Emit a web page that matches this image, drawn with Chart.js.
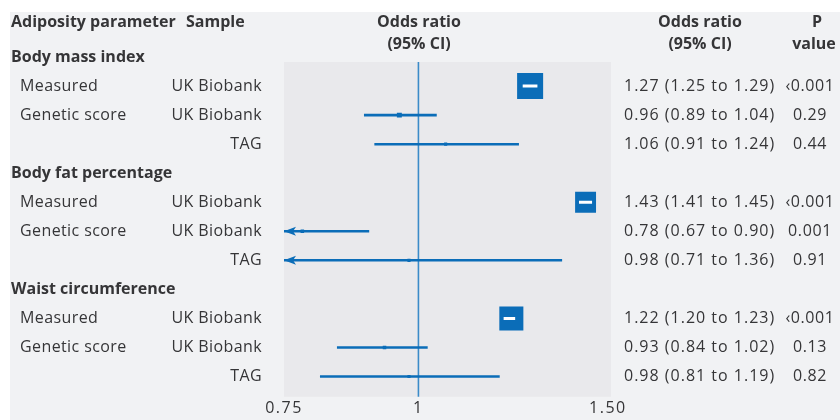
<!DOCTYPE html>
<html>
<head>
<meta charset="utf-8">
<script src="https://cdn.jsdelivr.net/npm/chart.js@4"></script>
<style>
  html, body { margin: 0; padding: 0; background: #fff; }
  #wrap { position: absolute; left: 0; top: 0; width: 840px; height: 420px; }
</style>
</head>
<body>
<div id="wrap"><canvas id="forest"></canvas></div>
<script>
// Forest plot: adiposity parameters vs odds ratio

const GROUPS = ['Body mass index', 'Body fat percentage', 'Waist circumference'];
const PARAMS = ['Measured', 'Genetic score', ''];
const SAMPLES = ['UK Biobank', 'UK Biobank', 'TAG'];

// one entry per study row, groups in order
const OR_EST = [1.27, 0.96, 1.06, 1.43, 0.78, 0.98, 1.22, 0.93, 0.98];
const OR_LO  = [1.25, 0.89, 0.91, 1.41, 0.67, 0.71, 1.20, 0.84, 0.81];
const OR_HI  = [1.29, 1.04, 1.24, 1.45, 0.90, 1.36, 1.23, 1.02, 1.19];
const P_VALUES = ['‹0.001', '0.29', '0.44', '‹0.001', '0.001', '0.91', '‹0.001', '0.13', '0.82'];
const MARKER = [18.4, 3.5, 2.2, 14.8, 2.5, 2.2, 17, 2.5, 2.2];   // square half-size weights
const X_TICKS = [0.75, 1, 1.5];
const X_TICK_LABELS = ['0.75', '1', '1.50'];

const BLUE = '#0b6db8';
const TXT = '#353537';
const FONT = "'Open Sans', 'Noto Sans', sans-serif";

// row positions: group header takes a row, then three study rows
const rowY = [];
GROUPS.forEach((g, gi) => { for (let k = 0; k < 3; k++) rowY.push(gi * 4 + k + 1); });
const isMeasured = rowY.map((_, i) => i % 3 === 0);

const fmt = v => v.toFixed(2);
const orText = OR_EST.map((v, i) => `${fmt(v)} (${fmt(OR_LO[i])} to ${fmt(OR_HI[i])})`);

const datasets = [];
// reference line at OR = 1
datasets.push({
  type: 'line', data: [{ x: 1, y: 0 }, { x: 1, y: 13 }],
  borderColor: '#3b8bc8', borderWidth: 1.6, pointRadius: 0, order: 5,
});
// confidence intervals
rowY.forEach((y, i) => {
  datasets.push({
    type: 'line', data: [{ x: OR_LO[i], y }, { x: OR_HI[i], y }],
    borderColor: isMeasured[i] ? '#ffffff' : BLUE,
    borderWidth: isMeasured[i] ? 3 : 2.6,
    pointRadius: 0, order: isMeasured[i] ? 0 : 3,
  });
});
// point estimates
datasets.push({
  type: 'scatter',
  data: OR_EST.map((x, i) => ({ x, y: rowY[i] })),
  pointStyle: 'rect', pointRadius: MARKER, pointHoverRadius: MARKER,
  backgroundColor: BLUE, borderWidth: 0, order: 1,
});

const bgPlugin = {
  id: 'bg',
  beforeDraw(chart) {
    const { ctx, chartArea: a } = chart;
    ctx.save();
    ctx.fillStyle = '#f1f2f4';
    ctx.fillRect(10, 12, chart.width - 10, chart.height - 12);
    ctx.fillStyle = '#e9e9ec';
    ctx.fillRect(a.left, a.top, a.right - a.left, a.bottom - a.top);
    ctx.restore();
    ctx.letterSpacing = '1.5px';   // widen tick digits
  },
};

const tablePlugin = {
  id: 'table',
  afterDraw(chart) {
    const { ctx, scales } = chart;
    const xs = scales.x, ys = scales.y;
    ctx.save();
    ctx.textBaseline = 'middle';

    // arrows for intervals that run off the left edge
    ctx.fillStyle = BLUE;
    rowY.forEach((y, i) => {
      if (OR_LO[i] >= xs.min) return;
      const px = xs.getPixelForValue(xs.min), py = ys.getPixelForValue(y);
      ctx.beginPath();
      ctx.moveTo(px, py);
      ctx.lineTo(px + 12, py - 4.5);
      ctx.lineTo(px + 9, py);
      ctx.lineTo(px + 12, py + 4.5);
      ctx.closePath();
      ctx.fill();
    });
    ctx.fillStyle = TXT;

    // column headers
    ctx.letterSpacing = '0px';
    ctx.font = `bold 16px ${FONT}`;
    ctx.textAlign = 'left';
    ctx.fillText('Adiposity parameter', 11, 22);
    ctx.fillText('Sample', 186, 22);
    ctx.textAlign = 'center';
    ctx.fillText('Odds ratio', 419, 22);
    ctx.fillText('(95% CI)', 419, 44);
    ctx.fillText('Odds ratio', 700, 22);
    ctx.fillText('(95% CI)', 700, 44);
    ctx.fillText('P', 817, 22);
    ctx.fillText('value', 814, 44);

    // group headers
    ctx.textAlign = 'left';
    GROUPS.forEach((g, gi) => ctx.fillText(g, 11, ys.getPixelForValue(gi * 4)));

    // study rows
    ctx.font = `16px ${FONT}`;
    rowY.forEach((y, i) => {
      const py = ys.getPixelForValue(y);
      ctx.letterSpacing = '0.4px';
      ctx.textAlign = 'left';
      ctx.fillText(PARAMS[i % 3], 20, py);
      ctx.textAlign = 'right';
      ctx.fillText(SAMPLES[i % 3], 262, py);
      ctx.letterSpacing = '1px';
      ctx.textAlign = 'left';
      ctx.fillText(orText[i], 624, py);
      ctx.letterSpacing = '0.6px';
      ctx.textAlign = 'center';
      ctx.fillText(P_VALUES[i], 810, py);
    });
    ctx.restore();
    ctx.letterSpacing = '0px';
  },
};

new Chart(document.getElementById('forest'), {
  data: { datasets },
  options: {
    responsive: true, maintainAspectRatio: false, animation: false,
    layout: { padding: { left: 284, right: 229, top: 62, bottom: 0 } },
    scales: {
      x: {
        type: 'logarithmic', min: 0.75, max: 1.51,
        grid: { display: false, drawTicks: false }, border: { display: false },
        afterBuildTicks: s => { s.ticks = X_TICKS.map(v => ({ value: v })); },
        ticks: {
          autoSkip: false, maxRotation: 0, padding: 2, color: TXT,
          font: { family: FONT, size: 16 },
          callback: v => X_TICK_LABELS[X_TICKS.indexOf(v)],
        },
      },
      y: { type: 'linear', reverse: true, min: 0.17, max: 11.7, display: false },
    },
    plugins: { legend: { display: false }, tooltip: { enabled: false } },
  },
  plugins: [bgPlugin, tablePlugin],
});
</script>
</body>
</html>
